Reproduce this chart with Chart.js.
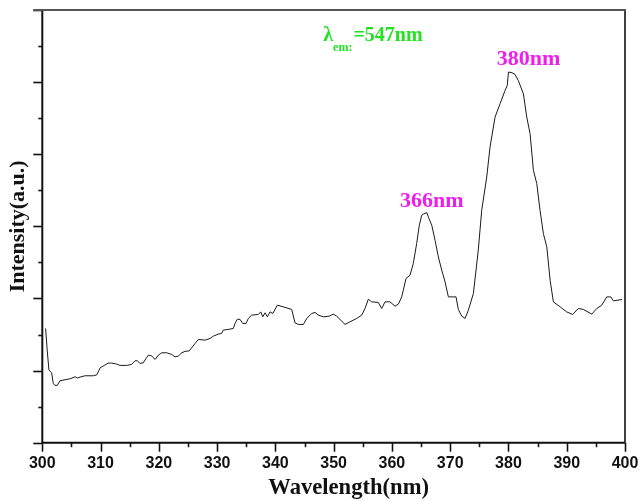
<!DOCTYPE html>
<html>
<head>
<meta charset="utf-8">
<title>Excitation spectrum</title>
<style>
  html, body { margin: 0; padding: 0; background: #ffffff; }
  #wrap { width: 640px; height: 501px; position: relative; }
</style>
<script src="https://cdn.jsdelivr.net/npm/chart.js@4.4.1/dist/chart.umd.min.js"></script>
</head>
<body>
<div id="wrap"><canvas id="spectrum" width="640" height="501"></canvas></div>
<script>
// Excitation spectrum, monitored at the 547 nm emission
const wavelengths = [
  300.57, 300.84, 301.14, 301.60, 301.88, 302.17, 302.57, 303.03, 303.89, 304.76,
  305.62, 306.02, 306.48, 307.34, 308.77, 309.36, 309.93, 310.74, 311.31, 311.90,
  312.76, 313.33, 314.48, 315.34, 315.91, 316.31, 316.78, 317.34, 317.81, 318.21,
  318.79, 319.36, 319.93, 320.50, 321.34, 322.20, 322.77, 323.34, 323.93, 324.49,
  325.24, 326.22, 326.79, 327.94, 328.80, 329.37, 330.20, 330.78, 331.06, 331.92,
  332.78, 333.08, 333.47, 333.94, 334.39, 334.96, 335.36, 335.93, 337.07, 337.49,
  337.83, 338.23, 338.62, 339.09, 339.56, 340.33, 341.36, 342.80, 343.37, 343.94,
  344.80, 345.38, 346.24, 346.81, 347.38, 348.24, 349.26, 349.94, 350.52, 351.09,
  351.95, 352.80, 353.96, 354.82, 355.38, 355.95, 356.53, 357.66, 358.25, 358.82,
  359.67, 360.53, 361.10, 361.68, 361.95, 362.42, 363.11, 363.67, 364.25, 364.70,
  365.11, 365.40, 366.00, 366.30, 366.84, 367.40, 367.97, 368.55, 369.12, 369.69,
  370.53, 371.00, 371.40, 371.98, 372.55, 373.12, 373.98, 374.82, 375.41, 376.27,
  376.84, 377.70, 378.56, 379.42, 379.80, 380.00, 380.60, 381.10, 381.70, 382.56,
  383.14, 383.71, 384.28, 384.86, 385.42, 385.99, 386.58, 387.15, 387.71, 388.87,
  389.99, 391.03, 391.98, 392.85, 394.30, 395.15, 396.01, 396.87, 397.56, 398.01,
  399.50
];
const intensity = [
  1.584, 1.284, 1.007, 0.970, 0.823, 0.795, 0.795, 0.859, 0.873, 0.886,
  0.914, 0.896, 0.910, 0.928, 0.928, 0.942, 1.039, 1.076, 1.104, 1.104,
  1.090, 1.072, 1.072, 1.086, 1.136, 1.136, 1.100, 1.108, 1.169, 1.215,
  1.201, 1.155, 1.215, 1.247, 1.247, 1.224, 1.191, 1.201, 1.247, 1.266,
  1.274, 1.377, 1.432, 1.422, 1.446, 1.478, 1.506, 1.515, 1.561, 1.571,
  1.584, 1.654, 1.713, 1.709, 1.654, 1.654, 1.723, 1.769, 1.778, 1.814,
  1.745, 1.801, 1.745, 1.814, 1.792, 1.907, 1.884, 1.848, 1.662, 1.640,
  1.640, 1.723, 1.792, 1.806, 1.769, 1.745, 1.755, 1.783, 1.755, 1.709,
  1.640, 1.676, 1.723, 1.769, 1.861, 1.990, 1.953, 1.945, 1.861, 1.953,
  1.953, 1.893, 1.921, 2.022, 2.115, 2.277, 2.323, 2.485, 2.762, 3.015,
  3.154, 3.170, 3.190, 3.120, 3.015, 2.807, 2.576, 2.392, 2.230, 2.022,
  2.022, 2.022, 1.848, 1.755, 1.723, 1.838, 2.069, 2.669, 3.223, 3.684,
  4.100, 4.515, 4.701, 4.885, 4.954, 5.140, 5.130, 5.110, 5.020, 4.839,
  4.515, 4.285, 3.777, 3.593, 3.223, 2.900, 2.715, 2.253, 1.953, 1.884,
  1.814, 1.778, 1.861, 1.848, 1.783, 1.861, 1.907, 2.022, 2.022, 1.967,
  1.986
];
const xTickValues = [300, 310, 320, 330, 340, 350, 360, 370, 380, 390, 400];
const xTickLabels = ['300', '310', '320', '330', '340', '350', '360', '370', '380', '390', '400'];
const xAxisTitle = 'Wavelength(nm)';
const yAxisTitle = 'Intensity(a.u.)';
const peakNm = [366, 380];
const emissionText = { symbol: 'λ', sub: 'em:', value: '=547nm' };

const SERIF = '"Liberation Serif", "Times New Roman", serif';
const SANS = '"Liberation Sans", Arial, sans-serif';

// Axis frame, outward tick marks, the x-axis title and the text annotations
const framePlugin = {
  id: 'frameAndNotes',
  afterDraw(chart) {
    const { ctx, chartArea: a } = chart;
    const xs = chart.scales.x, ys = chart.scales.y;
    ctx.save();
    ctx.strokeStyle = '#111';
    ctx.lineCap = 'butt';

    // x ticks: major every 10 nm, minor every 5 nm
    ctx.lineWidth = 1.6;
    for (let v = 300; v <= 400; v += 5) {
      const px = Math.round(xs.getPixelForValue(v)) + 0.5;
      const len = v % 10 === 0 ? 9 : 4.5;
      ctx.beginPath();
      ctx.moveTo(px, a.bottom);
      ctx.lineTo(px, a.bottom + len);
      ctx.stroke();
    }
    // y ticks: major every unit, minor every half
    for (let v = 0; v <= 6.0001; v += 0.5) {
      const py = Math.round(ys.getPixelForValue(v)) + 0.5;
      const len = Math.abs(v - Math.round(v)) < 1e-6 ? 9 : 4;
      ctx.beginPath();
      ctx.moveTo(a.left - len, py);
      ctx.lineTo(a.left, py);
      ctx.stroke();
    }

    // frame
    ctx.lineWidth = 2;
    ctx.beginPath();
    ctx.moveTo(a.left, a.top);
    ctx.lineTo(a.left, a.bottom);
    ctx.lineTo(a.right, a.bottom);
    ctx.stroke();
    ctx.lineWidth = 1.6;
    ctx.beginPath();
    ctx.moveTo(a.right, a.bottom);
    ctx.lineTo(a.right, a.top);
    ctx.stroke();
    ctx.strokeStyle = '#555';
    ctx.lineWidth = 2;
    ctx.beginPath();
    ctx.moveTo(a.left - 9, a.top);
    ctx.lineTo(a.right + 1, a.top);
    ctx.stroke();

    // x-axis title, set a little right of the plot centre
    ctx.fillStyle = '#111';
    ctx.font = 'bold 22.6px ' + SERIF;
    ctx.textAlign = 'center';
    ctx.textBaseline = 'middle';
    ctx.fillText(xAxisTitle, (a.left + a.right) / 2 + 15, chart.height - 13);

    // peak labels
    const offsets = [{ dx: 5, dy: 6 }, { dx: 20, dy: 7 }];
    ctx.fillStyle = '#ee1fee';
    ctx.font = 'bold 22px ' + SERIF;
    ctx.textAlign = 'center';
    ctx.textBaseline = 'alphabetic';
    peakNm.forEach((nm, i) => {
      const idx = wavelengths.indexOf(nm);
      const px = xs.getPixelForValue(nm) + offsets[i].dx;
      const py = ys.getPixelForValue(intensity[idx]) - offsets[i].dy;
      ctx.fillText(nm + 'nm', px, py);
    });

    // emission wavelength note
    ctx.fillStyle = '#22e322';
    ctx.textAlign = 'left';
    const x0 = a.left + 281;
    const base = a.top + 30.7;
    ctx.font = 'bold 20px ' + SERIF;
    ctx.fillText(emissionText.symbol, x0, base);
    const w1 = ctx.measureText(emissionText.symbol).width;
    ctx.font = 'bold 12px ' + SERIF;
    ctx.fillText(emissionText.sub, x0 + w1, base + 10.3);
    const w2 = ctx.measureText(emissionText.sub).width;
    ctx.font = 'bold 20px ' + SERIF;
    ctx.fillText(emissionText.value, x0 + w1 + w2 + 1, base);
    ctx.restore();
  }
};

new Chart(document.getElementById('spectrum'), {
  type: 'line',
  data: {
    datasets: [{
      data: wavelengths.map((w, i) => ({ x: w, y: intensity[i] })),
      borderColor: '#1a1a1a',
      borderWidth: 1,
      pointRadius: 0,
      tension: 0,
      fill: false
    }]
  },
  options: {
    responsive: false,
    animation: false,
    devicePixelRatio: 1,
    layout: { padding: { top: 10, right: 15, left: 0, bottom: 0 } },
    plugins: { legend: { display: false }, tooltip: { enabled: false } },
    scales: {
      x: {
        type: 'linear',
        min: 300,
        max: 400,
        afterFit(scale) {
          scale.height = 58.3;
          scale.paddingLeft = 0;
          scale.paddingRight = 0;
        },
        afterBuildTicks(scale) { scale.ticks = xTickValues.map(v => ({ value: v })); },
        grid: { display: false, drawTicks: false },
        border: { display: false },
        ticks: {
          padding: 11,
          color: '#111',
          font: { family: SANS, size: 16, weight: 'bold' },
          maxRotation: 0,
          autoSkip: false,
          callback: (v) => xTickLabels[xTickValues.indexOf(v)]
        },
        title: { display: false }
      },
      y: {
        type: 'linear',
        min: 0,
        max: 6,
        afterFit(scale) { scale.width = 42.3; },
        grid: { display: false, drawTicks: false },
        border: { display: false },
        ticks: { display: false },
        title: {
          display: true,
          text: yAxisTitle,
          color: '#111',
          padding: { top: 5, bottom: 0 },
          font: { family: SERIF, size: 22, weight: 'bold' }
        }
      }
    }
  },
  plugins: [framePlugin]
});
</script>
</body>
</html>
